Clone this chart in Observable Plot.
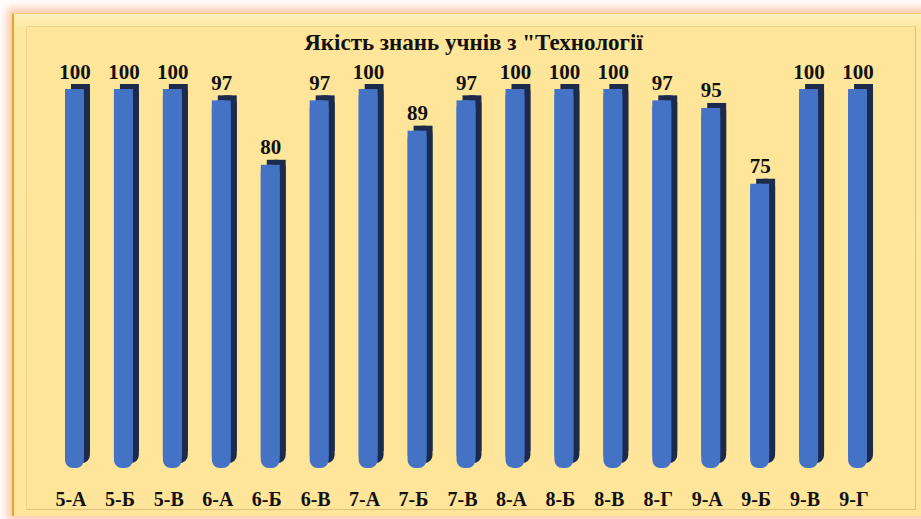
<!DOCTYPE html>
<html>
<head>
<meta charset="utf-8">
<script src="https://cdn.jsdelivr.net/npm/d3@7"></script>
<script src="https://cdn.jsdelivr.net/npm/@observablehq/plot@0.6"></script>
<style>
  html, body { margin: 0; padding: 0; background: #ffffff; }
  #wrap { position: relative; width: 921px; height: 519px; overflow: hidden; background: #fff; }
  #panel { position: absolute; left: 12px; top: 13px; width: 916px; height: 503px;
    box-sizing: border-box; background: linear-gradient(#FFF2BE 0px, #FEE8A0 14px, #FEE59A 100%);
    border-left: 2px solid #E6A62A; border-top: 1px solid #F7D27A;
    box-shadow: 0 0 9px 5px rgba(246, 160, 115, 0.6); }
  #inner { position: absolute; left: 12px; top: 12px; right: 12px; bottom: 6px;
    box-sizing: border-box; background: #FEE599;
    border: 1px solid #E2C27A; border-top-color: #EFD48E; border-left-color: #EFD48E; }
  #chart { position: absolute; left: 0; top: 0; }
  #chart svg { background: transparent !important; }
</style>
</head>
<body>
<div id="wrap">
  <div id="panel"><div id="inner"></div></div>
  <div id="chart"></div>
</div>
<script>
const classes = ["5-А","5-Б","5-В","6-А","6-Б","6-В","7-А","7-Б","7-В","8-А","8-Б","8-В","8-Г","9-А","9-Б","9-В","9-Г"];
const values  = [100, 100, 100, 97, 80, 97, 100, 89, 97, 100, 100, 100, 97, 95, 75, 100, 100];
const title = "Якість знань учнів з \"Технології";

const data = classes.map((c, i) => ({cls: c, v: values[i]}));
const font = "'Liberation Serif', 'Times New Roman', serif";
const inset = 15;
const front = "#4472C4";
const dark = "#1C2B4C";

const chart = Plot.plot({
  width: 921,
  height: 519,
  marginLeft: 50,
  marginRight: 39,
  marginTop: 0,
  marginBottom: 38,
  style: {background: "transparent", fontFamily: font},
  x: {domain: classes, padding: 0, round: false, label: null},
  y: {domain: [0, 100], range: [468, 89], axis: null},
  marks: [
    // dark extrusion (side + top)
    Plot.rectY(data, {x: "cls", y: "v", fill: dark, insetLeft: inset, insetRight: inset, dx: 6, dy: -5, rx: 8}),
    Plot.rectY(data, {x: "cls", y: "v", fill: dark, insetLeft: inset, insetRight: inset, dx: 6, dy: -5, insetBottom: 12}),
    // front face
    Plot.rectY(data, {x: "cls", y: "v", fill: front, insetLeft: inset, insetRight: inset, rx: 8}),
    Plot.rectY(data, {x: "cls", y: "v", fill: front, insetLeft: inset, insetRight: inset, insetBottom: 12}),
    // value labels
    Plot.text(data, {x: "cls", y: "v", text: d => String(d.v), dy: -11, dx: 0, lineAnchor: "bottom",
      fontSize: 21, fontWeight: "bold", fill: "#111"}),
    // title
    Plot.text([title], {frameAnchor: "top", text: d => d, dx: 7, dy: 49, lineAnchor: "bottom",
      fontSize: 23, fontWeight: "bold", fill: "#111"}),
    Plot.axisX({tickSize: 0, tickPadding: 10, dx: -4, fontSize: 20, fontWeight: "bold", label: null, fill: "#111"})
  ]
});

document.getElementById("chart").appendChild(chart);
</script>
</body>
</html>
